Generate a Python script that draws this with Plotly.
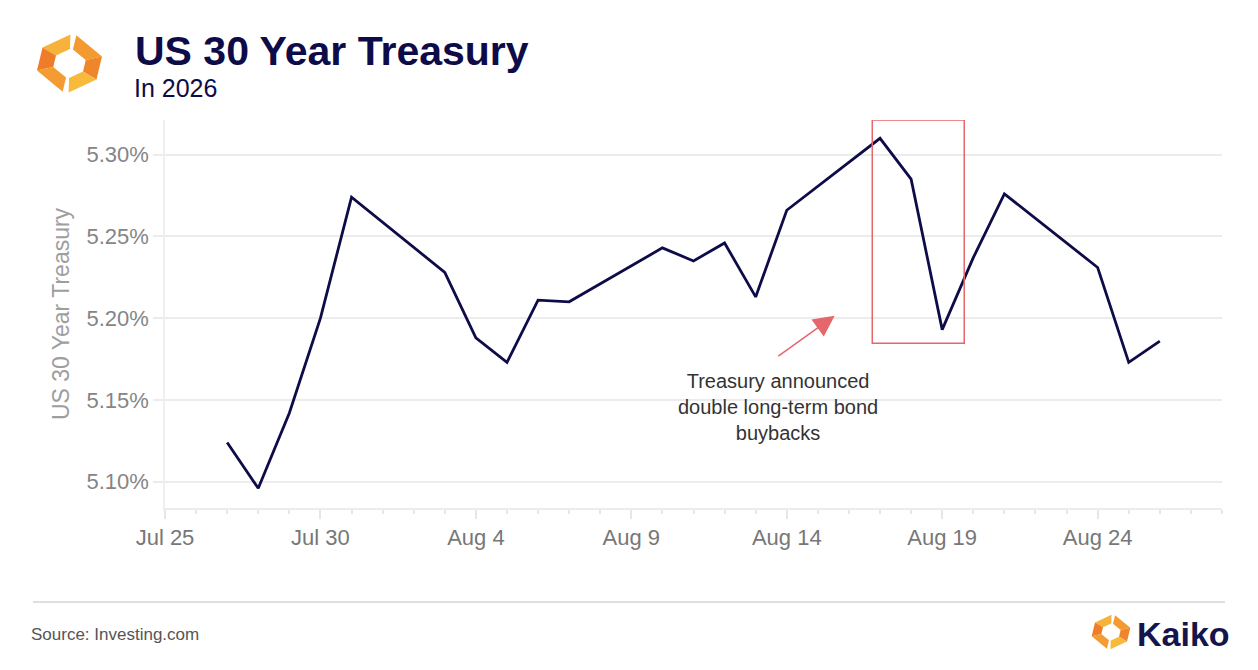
import plotly.graph_objects as go

# US 30 year treasury yield, daily closes
dates = [
    "2026-07-27", "2026-07-28", "2026-07-29", "2026-07-30", "2026-07-31",
    "2026-08-03", "2026-08-04", "2026-08-05", "2026-08-06", "2026-08-07",
    "2026-08-10", "2026-08-11", "2026-08-12", "2026-08-13", "2026-08-14",
    "2026-08-17", "2026-08-18", "2026-08-19", "2026-08-20", "2026-08-21",
    "2026-08-24", "2026-08-25", "2026-08-26",
]
yields = [
    5.124, 5.096, 5.142, 5.200, 5.274,
    5.228, 5.188, 5.173, 5.211, 5.210,
    5.243, 5.235, 5.246, 5.213, 5.266,
    5.310, 5.285, 5.193, 5.237, 5.276,
    5.231, 5.173, 5.186,
]

y_ticks = [5.10, 5.15, 5.20, 5.25, 5.30]
y_labels = [f"{v:.2f}%" for v in y_ticks]

# highlighted window + callout
hl_x = ["2026-08-16 18:00", "2026-08-19 17:00"]
hl_y = [5.1847, 5.3212]
arrow_head = ("2026-08-15 13:00", 5.2015)
arrow_tail = ("2026-08-13 16:20", 5.1761)
note_text = "Treasury announced<br>double long-term bond<br>buybacks"

NAVY = "#0e0c48"
FONT = "Liberation Sans, Arial, sans-serif"

# page body has an 8px margin, so the figure is drawn 8px in from the corner
PAGE_OFF = 8
W, H = 1258 - PAGE_OFF, 670 - PAGE_OFF
ML, MR, MT, MB = 165 - PAGE_OFF, 36, 120 - PAGE_OFF, 162
PLOT_L, PLOT_B = 165, 508
PW, PH = W - ML - MR, H - MT - MB


def px(x):
    return (x - PLOT_L) / PW


def py(y):
    return (PLOT_B - y) / PH


def logo(cx, cy, r):
    # two chevron halves of a tilted hexagon ring
    outer = {
        "top": (4, -30.5), "ul": (-27, -16), "ll": (-32.5, 7),
        "bot": (-4, 30.5), "lr": (27, 16), "ur": (32.5, -7),
    }
    k = r / 32.0
    inner_k = 0.5

    def pt(v, s=1.0):
        return (cx + v[0] * k * s, cy + v[1] * k * s)

    def lerp(a, b, t):
        return (a[0] + (b[0] - a[0]) * t, a[1] + (b[1] - a[1]) * t)

    segs = [
        ("top", "ul", "#f6b23a", 0.1, 0.0),
        ("ul", "ll", "#ee7c29", 0.0, 0.0),
        ("ll", "bot", "#f29c33", 0.0, 0.1),
        ("top", "ur", "#f39a31", 0.1, 0.0),
        ("ur", "lr", "#ef862b", 0.0, 0.0),
        ("lr", "bot", "#f7ba3c", 0.0, 0.1),
    ]
    shapes = []
    for a, b, col, ta, tb in segs:
        A, B = outer[a], outer[b]
        a0 = lerp(A, B, ta)
        b0 = lerp(B, A, tb)
        pts = [pt(a0), pt(b0), pt(b0, inner_k), pt(a0, inner_k)]
        path = "M " + " L ".join(f"{px(x):.5f},{py(y):.5f}" for x, y in pts) + " Z"
        shapes.append(dict(type="path", xref="paper", yref="paper", path=path,
                           fillcolor=col, line=dict(width=0), layer="above"))
    return shapes


fig = go.Figure()
fig.add_trace(go.Scatter(
    x=dates, y=yields, mode="lines",
    line=dict(color=NAVY, width=2.8),
    hovertemplate="%{x|%b %-d}: %{y:.3f}%<extra></extra>",
))

shapes = [
    dict(type="rect", xref="x", yref="y", x0=hl_x[0], x1=hl_x[1],
         y0=hl_y[0], y1=hl_y[1], line=dict(color="#e5676b", width=1.5)),
    dict(type="line", xref="paper", yref="paper", x0=px(33), x1=px(1225),
         y0=py(602), y1=py(602), line=dict(color="#bdbdbd", width=1)),
]
shapes += logo(69.5, 63.5, 32)
shapes += logo(1111, 632, 19)

annotations = [
    dict(text="<b>US 30 Year Treasury</b>", xref="paper", yref="paper",
         x=px(133), y=py(51), xanchor="left", yanchor="middle", showarrow=False,
         font=dict(family=FONT, size=41, color=NAVY)),
    dict(text="In 2026", xref="paper", yref="paper",
         x=px(132), y=py(88), xanchor="left", yanchor="middle", showarrow=False,
         font=dict(family=FONT, size=25, color=NAVY)),
    dict(text=note_text, xref="paper", yref="paper",
         x=px(777.5), y=py(407), xanchor="center", yanchor="middle",
         showarrow=False, align="center",
         font=dict(family=FONT, size=20, color="#333333")),
    dict(x=arrow_head[0], y=arrow_head[1], ax=arrow_tail[0], ay=arrow_tail[1],
         xref="x", yref="y", axref="x", ayref="y", text="", showarrow=True,
         arrowhead=2, arrowsize=2.8, arrowwidth=1.5, arrowcolor="#e5676b"),
    dict(text="Source: Investing.com", xref="paper", yref="paper",
         x=px(29), y=py(634), xanchor="left", yanchor="middle", showarrow=False,
         font=dict(family=FONT, size=17, color="#555555")),
    dict(text="<b>Kaiko</b>", xref="paper", yref="paper",
         x=px(1135), y=py(634), xanchor="left", yanchor="middle", showarrow=False,
         font=dict(family=FONT, size=34, color="#16144c")),
]

fig.update_layout(
    width=W, height=H,
    margin=dict(l=ML, r=MR, t=MT, b=MB),
    paper_bgcolor="white", plot_bgcolor="white",
    showlegend=False,
    font=dict(family=FONT),
    shapes=shapes,
    annotations=annotations,
)

fig.update_xaxes(
    type="date", range=["2026-07-25", "2026-08-28"],
    tick0="2026-07-25", dtick=5 * 86400000, tickformat="%b %-d",
    showgrid=False, zeroline=False,
    showline=True, linecolor="#ececec", linewidth=1.5,
    ticks="outside", ticklen=9, tickcolor="#e6e6e6", tickwidth=1.5,
    minor=dict(dtick=86400000, ticks="outside", ticklen=4,
               tickcolor="#e6e6e6", showgrid=False),
    tickfont=dict(size=22, color="#777777"),
)

fig.update_yaxes(
    range=[5.0839, 5.3212], tickvals=y_ticks, ticktext=y_labels,
    showgrid=True, gridcolor="#ececec", gridwidth=1.5, zeroline=False,
    showline=True, linecolor="#efefef", linewidth=1.5,
    ticks="outside", ticklen=10, tickcolor="#ececec", tickwidth=1.5,
    tickfont=dict(size=22, color="#858585"),
    title=dict(text="US 30 Year Treasury", standoff=10,
               font=dict(size=23, color="#9e9e9e")),
)

fig.write_html("out.html")
